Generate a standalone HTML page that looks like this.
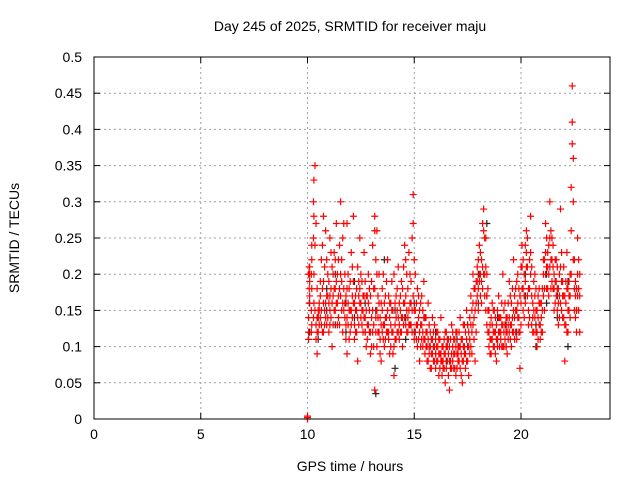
<!DOCTYPE html>
<html><head><meta charset="utf-8"><style>
body{margin:0;background:#fff}
svg{display:block;font-family:"Liberation Sans",sans-serif}
</style></head><body>
<svg id="chart" width="640" height="480">
<text x="350" y="31" font-size="14" text-anchor="middle">Day 245 of 2025, SRMTID for receiver maju</text>
<text x="350" y="471" font-size="14" text-anchor="middle">GPS time / hours</text>
<text transform="translate(19,238) rotate(-90)" font-size="14" text-anchor="middle">SRMTID / TECUs</text>
<g id="grid"></g><g id="black"></g><g id="red"></g>
<rect x="94" y="57" width="516" height="362" fill="none" stroke="#000"/>
</svg>
<script>
const xTicks=[0,5,10,15,20];
const yTicks=[0,0.05,0.1,0.15,0.2,0.25,0.3,0.35,0.4,0.45,0.5];
const yTickLabels=["0","0.05","0.1","0.15","0.2","0.25","0.3","0.35","0.4","0.45","0.5"];
const redTimes=[10.0,10.05,10.1,10.2,10.3,10.35,10.45,10.55,10.65,10.75,10.85,10.95,11.05,11.15,11.25,11.35,11.45,11.55,11.65,11.75,11.85,11.95,12.05,12.15,12.25,12.35,12.45,12.55,12.65,12.75,12.85,12.95,13.05,13.15,13.25,13.35,13.45,13.55,13.65,13.75,13.85,13.95,14.05,14.15,14.25,14.35,14.45,14.55,14.65,14.75,14.85,14.95,15.05,15.15,15.25,15.35,15.45,15.55,15.65,15.75,15.85,15.95,16.05,16.15,16.25,16.35,16.45,16.55,16.65,16.75,16.85,16.95,17.05,17.15,17.25,17.35,17.45,17.55,17.65,17.75,17.85,17.95,18.05,18.15,18.25,18.35,18.45,18.55,18.65,18.75,18.85,18.95,19.05,19.15,19.25,19.35,19.45,19.55,19.65,19.75,19.85,19.95,20.05,20.15,20.25,20.35,20.45,20.55,20.65,20.75,20.85,20.95,21.05,21.15,21.25,21.35,21.45,21.55,21.65,21.75,21.85,21.95,22.05,22.15,22.25,22.35,22.4,22.45,22.55,22.65,22.75];
const redValues=[[0,0.002,0.004],[0.14,0.2,0.12,0.11],[0.19,0.21,0.17,0.2],[0.24,0.18,0.13,0.22],[0.33,0.28,0.2,0.16],[0.35,0.24,0.15],[0.14,0.09,0.18,0.12],[0.16,0.13,0.15],[0.22,0.15,0.13],[0.28,0.19,0.12,0.16],[0.26,0.16,0.14],[0.2,0.14,0.17],[0.13,0.25,0.17,0.15],[0.21,0.1,0.16],[0.23,0.15,0.18],[0.19,0.27,0.16],[0.14,0.22,0.17],[0.3,0.17,0.2],[0.25,0.12,0.16],[0.2,0.16,0.14],[0.14,0.27,0.09,0.18],[0.18,0.11,0.15],[0.23,0.15,0.13],[0.28,0.19,0.16],[0.17,0.12,0.15],[0.21,0.14,0.08],[0.16,0.25,0.18],[0.13,0.19,0.15],[0.23,0.17,0.14],[0.15,0.1,0.17],[0.2,0.13,0.16],[0.17,0.09,0.12],[0.24,0.12,0.15],[0.04,0.28,0.18,0.26],[0.26,0.15,0.1,0.2],[0.2,0.12,0.16],[0.16,0.08,0.13],[0.2,0.13,0.11],[0.11,0.17,0.14],[0.22,0.15,0.12],[0.14,0.09,0.16],[0.19,0.12,0.15],[0.2,0.06,0.1],[0.17,0.11,0.14],[0.14,0.21,0.12],[0.12,0.17,0.15],[0.18,0.1,0.14],[0.24,0.14,0.16],[0.2,0.12,0.15],[0.23,0.15,0.13],[0.13,0.19,0.16],[0.31,0.17,0.27],[0.2,0.12,0.15],[0.18,0.1,0.13],[0.15,0.08,0.12],[0.13,0.17,0.11],[0.19,0.11,0.14],[0.1,0.14,0.12],[0.16,0.08,0.11],[0.12,0.07,0.1],[0.14,0.09,0.11],[0.1,0.13,0.08],[0.08,0.12,0.1],[0.11,0.06,0.09],[0.09,0.14,0.08],[0.07,0.1,0.08],[0.12,0.05,0.09],[0.08,0.11,0.1],[0.1,0.04,0.08],[0.13,0.07,0.09],[0.09,0.11,0.07],[0.06,0.12,0.1],[0.1,0.08,0.09],[0.14,0.07,0.1],[0.11,0.05,0.08],[0.09,0.13,0.1],[0.15,0.08,0.11],[0.12,0.06,0.1],[0.17,0.1,0.13],[0.2,0.13,0.16],[0.15,0.08,0.18],[0.21,0.17,0.19],[0.19,0.24,0.2],[0.22,0.16,0.19],[0.29,0.26,0.2],[0.25,0.15,0.21],[0.18,0.12,0.15],[0.13,0.09,0.11],[0.16,0.11,0.13],[0.1,0.15,0.12],[0.13,0.08,0.11],[0.17,0.12,0.14],[0.11,0.14,0.12],[0.2,0.1,0.13],[0.13,0.16,0.11],[0.09,0.12,0.14],[0.19,0.14,0.12],[0.16,0.1,0.13],[0.22,0.15,0.12],[0.12,0.18,0.15],[0.2,0.14,0.16],[0.17,0.07,0.12],[0.24,0.18,0.21],[0.2,0.14,0.17],[0.26,0.21,0.23],[0.18,0.13,0.15],[0.23,0.28,0.2],[0.16,0.12,0.14],[0.2,0.14,0.17],[0.15,0.1,0.12],[0.18,0.13,0.16],[0.12,0.16,0.14],[0.22,0.17,0.2],[0.27,0.2,0.23],[0.23,0.18,0.21],[0.3,0.21,0.25],[0.25,0.19,0.22],[0.2,0.15,0.18],[0.22,0.17,0.19],[0.18,0.13,0.16],[0.29,0.16,0.21],[0.19,0.14,0.17],[0.08,0.17,0.13],[0.23,0.12,0.18],[0.19,0.15,0.17],[0.32,0.26,0.2],[0.46,0.41,0.38],[0.36,0.3,0.22],[0.19,0.14,0.17],[0.25,0.17,0.2],[0.2,0.12,0.17]];
const redTimes2=[10.08,10.18,10.28,10.4,10.5,10.6,10.7,10.8,10.9,11.0,11.1,11.2,11.3,11.4,11.5,11.6,11.7,11.8,11.9,12.0,12.1,12.2,12.3,12.4,12.5,12.6,12.7,12.8,12.9,13.0,13.1,13.2,13.3,13.4,13.5,13.6,13.7,13.8,13.9,14.0,14.1,14.2,14.3,14.4,14.5,14.6,14.7,14.8,14.9,15.0,15.1,15.2,15.3,15.4,15.5,15.6,15.7,15.8,15.9,16.0,16.1,16.2,16.3,16.4,16.5,16.6,16.7,16.8,16.9,17.0,17.1,17.2,17.3,17.4,17.5,17.6,17.7,17.8,17.9,18.0,18.1,18.2,18.3,18.4,18.5,18.6,18.7,18.8,18.9,19.0,19.1,19.2,19.3,19.4,19.5,19.6,19.7,19.8,19.9,20.0,20.1,20.2,20.3,20.4,20.5,20.6,20.7,20.8,20.9,21.0,21.1,21.2,21.3,21.4,21.5,21.6,21.7,21.8,21.9,22.0,22.1,22.2,22.3,22.5,22.6,22.7];
const redValues2=[[0.21,0.18,0.16],[0.2,0.15,0.12],[0.3,0.25,0.14],[0.27,0.13,0.11],[0.12,0.15,0.14],[0.17,0.14,0.19],[0.24,0.18,0.12],[0.21,0.15,0.13],[0.17,0.13,0.22],[0.16,0.12,0.19],[0.18,0.14,0.23],[0.17,0.13,0.2],[0.15,0.22,0.18],[0.2,0.16,0.13],[0.18,0.13,0.24],[0.19,0.15,0.22],[0.27,0.15,0.18],[0.17,0.13,0.11],[0.16,0.2,0.13],[0.15,0.19,0.12],[0.17,0.14,0.21],[0.16,0.13,0.11],[0.18,0.12,0.15],[0.19,0.13,0.17],[0.14,0.2,0.16],[0.17,0.12,0.15],[0.19,0.14,0.12],[0.17,0.13,0.11],[0.15,0.12,0.18],[0.14,0.1,0.19],[0.18,0.13,0.1],[0.22,0.14,0.12],[0.17,0.12,0.14],[0.14,0.11,0.09],[0.15,0.18,0.12],[0.16,0.13,0.1],[0.19,0.14,0.12],[0.17,0.12,0.11],[0.16,0.13,0.1],[0.15,0.12,0.09],[0.13,0.16,0.11],[0.15,0.12,0.18],[0.13,0.11,0.16],[0.14,0.12,0.19],[0.16,0.13,0.21],[0.17,0.13,0.22],[0.14,0.12,0.18],[0.16,0.13,0.2],[0.15,0.12,0.25],[0.22,0.15,0.11],[0.16,0.13,0.11],[0.14,0.11,0.17],[0.13,0.1,0.16],[0.12,0.1,0.15],[0.14,0.11,0.09],[0.12,0.1,0.08],[0.13,0.1,0.09],[0.11,0.09,0.07],[0.12,0.1,0.08],[0.11,0.09,0.07],[0.1,0.08,0.12],[0.09,0.11,0.07],[0.1,0.08,0.06],[0.11,0.09,0.07],[0.1,0.07,0.12],[0.09,0.11,0.06],[0.11,0.08,0.07],[0.1,0.08,0.12],[0.09,0.07,0.11],[0.12,0.09,0.07],[0.1,0.08,0.12],[0.11,0.09,0.06],[0.1,0.08,0.13],[0.12,0.09,0.07],[0.13,0.1,0.08],[0.14,0.11,0.09],[0.15,0.12,0.09],[0.18,0.14,0.11],[0.19,0.16,0.12],[0.22,0.18,0.15],[0.23,0.2,0.17],[0.27,0.21,0.18],[0.25,0.2,0.17],[0.2,0.17,0.13],[0.15,0.12,0.1],[0.14,0.11,0.09],[0.15,0.12,0.1],[0.14,0.12,0.09],[0.15,0.11,0.1],[0.14,0.12,0.1],[0.16,0.13,0.1],[0.15,0.12,0.1],[0.14,0.12,0.1],[0.16,0.13,0.11],[0.17,0.13,0.11],[0.18,0.14,0.12],[0.17,0.14,0.11],[0.19,0.15,0.11],[0.18,0.14,0.12],[0.21,0.16,0.13],[0.22,0.18,0.15],[0.24,0.19,0.16],[0.25,0.21,0.17],[0.22,0.18,0.14],[0.21,0.17,0.13],[0.19,0.15,0.12],[0.18,0.15,0.12],[0.17,0.14,0.11],[0.16,0.13,0.11],[0.18,0.15,0.12],[0.22,0.18,0.15],[0.25,0.21,0.18],[0.24,0.2,0.17],[0.26,0.22,0.18],[0.24,0.21,0.18],[0.22,0.19,0.16],[0.21,0.18,0.15],[0.2,0.17,0.14],[0.23,0.19,0.15],[0.21,0.17,0.14],[0.19,0.16,0.13],[0.18,0.15,0.12],[0.2,0.17,0.14],[0.22,0.18,0.15],[0.18,0.15,0.12],[0.22,0.18,0.15],[0.19,0.16,0.13]];
const blackTimes=[10.1,10.5,10.9,11.3,11.8,12.2,12.7,13.2,13.6,14.1,14.6,15.0,15.5,16.0,16.5,17.0,17.5,18.0,18.4,18.9,19.3,19.8,20.2,20.7,21.2,21.7,22.2,22.6];
const blackValues=[[0.12,0.16],[0.14,0.11],[0.15,0.18],[0.13,0.2],[0.16,0.12],[0.14,0.19],[0.12,0.16],[0.035,0.15],[0.13,0.22],[0.07,0.15],[0.14,0.11],[0.16,0.12],[0.11,0.14],[0.09,0.12],[0.08,0.1],[0.07,0.11],[0.1,0.13],[0.16,0.2],[0.27,0.17],[0.11,0.14],[0.13,0.1],[0.15,0.12],[0.17,0.2],[0.13,0.1],[0.2,0.16],[0.17,0.14],[0.1,0.19],[0.18,0.15]];
const NS="http://www.w3.org/2000/svg";
const X0=94,X1=610,Y0=419,Y1=57,XMAX=516/21.35,YMAX=0.5;
function xs(v){return X0+v/XMAX*(X1-X0);}
function ys(v){return Y0-v/YMAX*(Y0-Y1);}
function mk(tag,attrs,parent){const e=document.createElementNS(NS,tag);for(const k in attrs)e.setAttribute(k,attrs[k]);parent.appendChild(e);return e;}
const grid=document.getElementById('grid');
xTicks.forEach(t=>{const x=xs(t);
 if(t>0){const g=mk('line',{x1:x,x2:x,y1:Y0,y2:Y1,stroke:'#a0a0a0','stroke-dasharray':'2,3'},grid);
 
 }
 mk('line',{x1:x,x2:x,y1:Y0,y2:Y0-6,stroke:'#000'},grid);
 mk('line',{x1:x,x2:x,y1:Y1,y2:Y1+6,stroke:'#000'},grid);
 const l=mk('text',{x:x,y:Y0+20,'font-size':14,'text-anchor':'middle'},grid);l.textContent=t;
 
 
});
yTicks.forEach((t,i)=>{const y=ys(t);
 if(t>0&&t<0.5){const g=mk('line',{x1:X0,x2:X1,y1:y,y2:y,stroke:'#a0a0a0','stroke-dasharray':'2,3'},grid);
 
 }
 mk('line',{x1:X0,x2:X0+6,y1:y,y2:y,stroke:'#000'},grid);
 mk('line',{x1:X1,x2:X1-6,y1:y,y2:y,stroke:'#000'},grid);
 const l=mk('text',{x:X0-12,y:y+5,'font-size':14,'text-anchor':'end'},grid);l.textContent=yTickLabels[i];
 
 
});
function plot(times,vals,color,gid,name){const g=document.getElementById(gid);
 times.forEach((t,i)=>vals[i].forEach(v=>{const x=xs(t),y=ys(v);
  const p=mk('path',{d:`M${x-3.5},${y}H${x+3.5}M${x},${y-3.5}V${y+3.5}`,stroke:color,'stroke-width':1.2,fill:'none'},g);
  
  
 }));}
plot(blackTimes,blackValues,'#222','black','black-point');
plot(redTimes,redValues,'#f00','red','srmtid-point');
plot(redTimes2,redValues2,'#f00','red','srmtid-point');
</script>
</body></html>
